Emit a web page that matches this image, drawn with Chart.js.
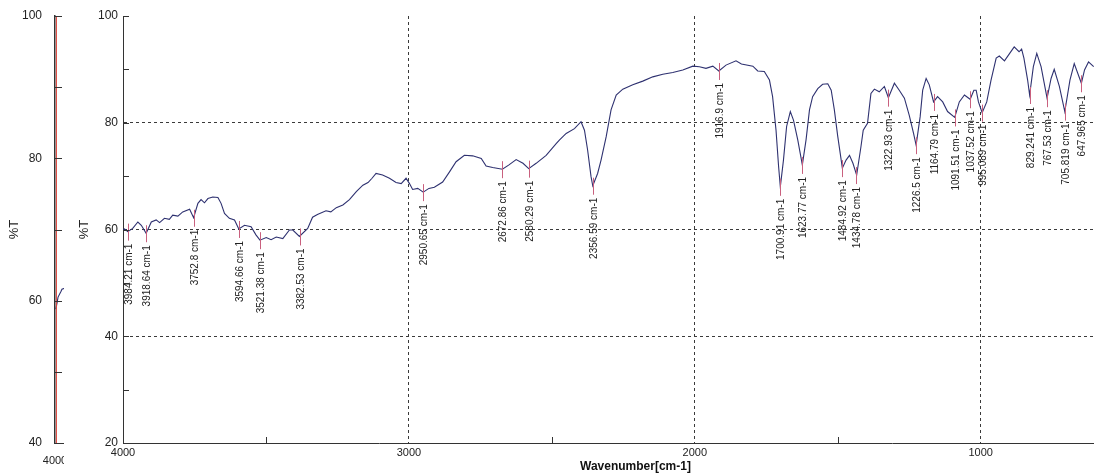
<!DOCTYPE html>
<html>
<head>
<meta charset="utf-8">
<script src="https://cdn.jsdelivr.net/npm/chart.js@4/dist/chart.umd.min.js"></script>
<style>
  html, body { margin:0; padding:0; background:#fff; width:1094px; height:475px; overflow:hidden; }
  #mainBox { position:absolute; left:0; top:0; width:1148px; height:475px; }
  #sideBox { position:absolute; left:0; top:0; width:64px; height:475px; overflow:hidden; background:#fff; }
</style>
</head>
<body>
<div id="mainBox"><canvas id="mainChart" width="1148" height="475"></canvas></div>
<div id="sideBox"><canvas id="sideChart" width="200" height="475"></canvas></div>
<script>
// spectrum (wavenumber cm-1 / %T)
const wavenumbers = [4000,3995,3983,3966,3948,3936,3919,3901,3884,3872,
  3855,3838,3826,3808,3791,3767,3753,3738,3727,3715,
  3703,3686,3668,3657,3645,3628,3610,3595,3575,3552,
  3535,3521,3499,3482,3464,3441,3418,3406,3383,3354,
  3337,3320,3290,3273,3254,3231,3208,3184,3161,3143,
  3129,3115,3092,3068,3045,3027,3010,2998,2987,2969,
  2950,2930,2911,2882,2858,2835,2806,2777,2747,2730,
  2707,2673,2650,2625,2601,2581,2555,2520,2485,2473,
  2450,2421,2398,2386,2375,2363,2357,2340,2328,2310,
  2293,2275,2252,2217,2182,2147,2112,2077,2042,2007,
  1984,1961,1937,1916,1891,1856,1837,1797,1780,1757,
  1739,1728,1716,1707,1701,1690,1679,1666,1655,1640,
  1624,1611,1599,1588,1570,1553,1535,1523,1512,1500,
  1484,1471,1459,1447,1434,1419,1411,1396,1384,1372,
  1355,1337,1323,1302,1285,1267,1250,1235,1226,1212,
  1203,1191,1180,1165,1151,1133,1116,1091,1075,1057,
  1037,1024,1016,1008,995,979,964,946,935,917,
  900,883,866,857,849,836,829,816,804,789,
  768,754,743,725,706,688,673,648,637,623,
  605];
const transmittance = [60.0,60.1,59.6,60.2,61.4,60.8,59.3,61.4,61.8,61.3,
  62.1,61.9,62.7,62.5,63.3,63.8,62.2,64.9,65.6,65.0,
  65.8,66.1,66.0,64.9,63.0,62.1,61.8,60.1,60.8,60.5,
  59.0,58.0,58.5,58.1,58.6,58.3,59.9,59.9,58.7,60.2,
  62.3,62.8,63.5,63.3,64.1,64.6,65.6,67.1,68.3,68.8,
  69.6,70.5,70.2,69.6,68.8,68.6,69.6,68.6,67.5,67.7,
  67.0,67.7,67.9,68.9,70.8,72.7,73.9,73.8,73.3,71.9,
  71.6,71.3,72.1,73.1,72.4,71.4,72.4,73.9,76.1,76.8,
  78.0,78.9,80.2,78.6,74.9,69.9,68.2,70.5,73.0,77.4,
  82.4,85.2,86.3,87.1,87.8,88.6,89.1,89.4,89.9,90.6,
  90.5,90.2,90.6,89.7,90.8,91.6,91.0,90.6,89.7,89.6,
  88.0,84.9,78.6,71.8,68.0,73.0,79.3,82.1,80.5,76.8,
  72.1,76.8,82.4,84.9,86.4,87.2,87.3,86.1,82.4,77.4,
  71.5,73.0,73.9,72.4,70.2,75.5,78.6,79.9,85.5,86.3,
  85.8,86.8,84.7,87.4,86.1,84.6,81.4,78.0,75.8,81.1,
  86.1,88.3,87.1,83.9,84.9,83.9,82.1,81.0,83.9,85.2,
  84.4,86.1,86.1,83.9,81.9,83.9,88.0,92.1,92.5,91.6,
  92.9,94.2,93.3,93.8,92.1,88.0,85.2,90.5,93.0,90.5,
  84.6,88.3,90.0,86.8,82.1,88.0,91.1,87.4,89.9,91.4,
  90.5];

// picked peaks
const peakLabels = ["3984.21","3918.64","3752.8","3594.66","3521.38","3382.53","2950.65","2672.86","2580.29","2356.59",
  "1916.9","1700.91","1623.77","1484.92","1434.78","1322.93","1226.5","1164.79","1091.51","1037.52",
  "995.089","829.241","767.53","705.819","647.965"];
const peakWavenumbers = [3984.21,3918.64,3752.8,3594.66,3521.38,3382.53,2950.65,2672.86,2580.29,2356.59,
  1916.9,1700.91,1623.77,1484.92,1434.78,1322.93,1226.5,1164.79,1091.51,1037.52,
  995.089,829.241,767.53,705.819,647.965];
const peakTransmittance = [59.6,59.3,62.2,60.1,58.0,58.7,67.0,71.3,71.4,68.2,
  89.7,68.0,72.1,71.5,70.2,84.7,75.8,83.9,81.0,84.4,
  81.9,85.2,84.6,82.1,87.4];

// axes
const xMajorTicks = [4000,3000,2000,1000];
const xMinorTicks = [3500,2500,1500,500];
const yMajorTicks = [20,40,60,80,100];
const yMinorTicks = [30,50,70,90];

// small overview panel on the left
const sideWavenumbers = [3999.4,3998.4,3997.9,3995.9,3995.2,3990];
const sideTransmittance = [58.8,59.9,60.5,61.3,61.6,62.0];
const sideMarkerWavenumbers = [3999.0,3999.0];
const sideMarkerTransmittance = [40,100];
const sideMajorTicks = [40,60,80,100];
const sideMinorTicks = [50,70,90];

const FONT = '"Liberation Sans", Arial, sans-serif';
const AXIS = '#333';
const CURVE = '#2e3170';

function pts(xs, ys){ return xs.map((x,i)=>({x:x, y:ys[i]})); }
function tickList(vals){ return vals.slice().sort((a,b)=>a-b).map(v=>({value:v})); }

// tick marks drawn inside the frame, like the instrument software does
const insideTicks = {
  id:'insideTicks',
  afterDraw(chart, args, opts){
    const {ctx, chartArea:a, scales:{x, y}} = chart;
    ctx.save();
    ctx.strokeStyle = AXIS; ctx.lineWidth = 1;
    (opts.y || []).forEach(v=>{
      const py = Math.round(y.getPixelForValue(v)) + 0.5;
      ctx.beginPath(); ctx.moveTo(a.left, py); ctx.lineTo(a.left + opts.len, py); ctx.stroke();
    });
    (opts.x || []).forEach(v=>{
      const px = Math.round(x.getPixelForValue(v)) + 0.5;
      ctx.beginPath(); ctx.moveTo(px, a.bottom); ctx.lineTo(px, a.bottom - opts.len); ctx.stroke();
    });
    ctx.restore();
  }
};

const peakMarks = {
  id:'peakMarks',
  afterDatasetsDraw(chart){
    const {ctx, scales:{x, y}} = chart;
    ctx.save();
    peakWavenumbers.forEach((w,i)=>{
      const px = Math.round(x.getPixelForValue(w)) + 0.5;
      const py = y.getPixelForValue(peakTransmittance[i]);
      ctx.strokeStyle = '#c9607e'; ctx.lineWidth = 1;
      ctx.beginPath(); ctx.moveTo(px, py - 8); ctx.lineTo(px, py + 9); ctx.stroke();
      ctx.save();
      ctx.translate(px + 1, py + 12);
      ctx.rotate(-Math.PI/2);
      ctx.fillStyle = '#222'; ctx.font = '10px ' + FONT;
      ctx.textAlign = 'right'; ctx.textBaseline = 'middle';
      ctx.fillText(peakLabels[i] + ' cm-1', 0, 0);
      ctx.restore();
    });
    ctx.restore();
  }
};

new Chart(document.getElementById('mainChart'), {
  type:'line',
  data:{ datasets:[{ data: pts(wavenumbers, transmittance), borderColor: CURVE, borderWidth: 1.1, pointRadius: 0, tension: 0, fill: false }] },
  options:{
    responsive:false, animation:false,
    layout:{ padding:{ left:70, top:16, right:0, bottom:0 } },
    plugins:{ legend:{display:false}, tooltip:{enabled:false},
      insideTicks:{ x: xMinorTicks, y: yMajorTicks.concat(yMinorTicks), len: 6 } },
    scales:{
      x:{ type:'linear', reverse:true, min:415, max:4000,
        afterBuildTicks: s => { s.ticks = tickList(xMajorTicks.concat(xMinorTicks)); },
        afterFit: s => { s.height = 32; },
        ticks:{ autoSkip:false, maxRotation:0, padding:3, color:'#222', font:{ family:FONT, size:11 },
          callback: v => xMajorTicks.includes(v) ? String(v) : '' },
        grid:{ drawTicks:false, lineWidth:1,
          color: c => (c.tick && xMajorTicks.includes(c.tick.value) && c.tick.value !== 4000) ? '#3a3a3a' : 'rgba(0,0,0,0)' },
        border:{ color:AXIS, width:1, dash:[3,3] },
        title:{ display:true, text:'Wavenumber[cm-1]', color:'#111', font:{ family:FONT, size:12, weight:'bold' }, padding:{ top:0, bottom:1 } }
      },
      y:{ min:20, max:100,
        afterBuildTicks: s => { s.ticks = tickList(yMajorTicks.concat(yMinorTicks)); },
        afterFit: s => { s.width = 53; },
        ticks:{ autoSkip:false, padding:5, color:'#222', font:{ family:FONT, size:12 },
          callback: v => yMajorTicks.includes(v) ? String(v) : '' },
        grid:{ drawTicks:false, lineWidth:1,
          color: c => (c.tick && [40,60,80].includes(c.tick.value)) ? '#3a3a3a' : 'rgba(0,0,0,0)' },
        border:{ color:AXIS, width:1, dash:[3,3] },
        title:{ display:true, text:'%T', color:'#222', font:{ family:FONT, size:13 }, padding:{ top:7, bottom:0 } }
      }
    }
  },
  plugins:[insideTicks, peakMarks]
});

new Chart(document.getElementById('sideChart'), {
  type:'line',
  data:{ datasets:[
    { data: pts(sideMarkerWavenumbers, sideMarkerTransmittance), borderColor:'#e0463c', borderWidth:1, pointRadius:0, fill:false },
    { data: pts(sideWavenumbers, sideTransmittance), borderColor: CURVE, borderWidth:1.1, pointRadius:0, tension:0, fill:false }
  ] },
  options:{
    responsive:false, animation:false,
    layout:{ padding:{ left:2, top:16, right:0, bottom:0 } },
    plugins:{ legend:{display:false}, tooltip:{enabled:false},
      insideTicks:{ y: sideMajorTicks.concat(sideMinorTicks), len: 7 } },
    scales:{
      x:{ type:'linear', reverse:true, min:3900, max:4000,
        afterBuildTicks: s => { s.ticks = [{value:4000}]; },
        afterFit: s => { s.height = 32; },
        ticks:{ autoSkip:false, maxRotation:0, padding:3, color:'#222', font:{ family:FONT, size:11 },
          callback: v => String(v) },
        grid:{ display:false },
        border:{ color:AXIS, width:1 }
      },
      y:{ min:40, max:100,
        afterBuildTicks: s => { s.ticks = tickList(sideMajorTicks.concat(sideMinorTicks)); },
        afterFit: s => { s.width = 53; },
        ticks:{ autoSkip:false, padding:5, color:'#222', font:{ family:FONT, size:12 },
          callback: v => sideMajorTicks.includes(v) ? String(v) : '' },
        grid:{ display:false },
        border:{ color:AXIS, width:1.5 },
        title:{ display:true, text:'%T', color:'#222', font:{ family:FONT, size:13 }, padding:{ top:5, bottom:0 } }
      }
    }
  },
  plugins:[insideTicks]
});
</script>
</body>
</html>
